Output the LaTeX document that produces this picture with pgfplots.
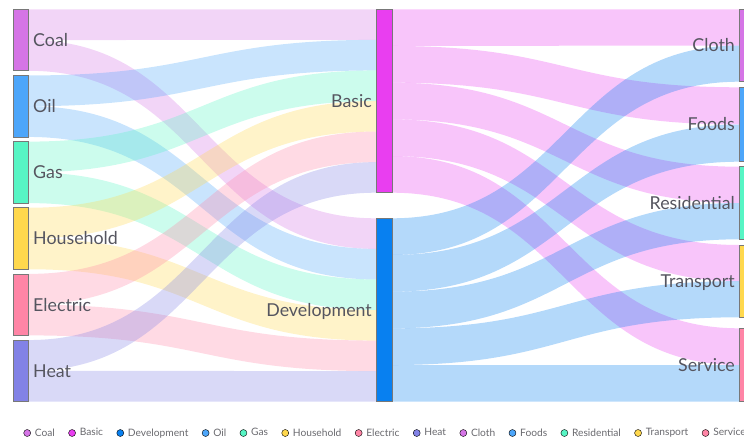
\documentclass[border=0pt]{standalone}
\usepackage{pgfplots}
\pgfplotsset{compat=1.18}
\usepackage{pgfplotstable}
\usepackage{fontspec}
\setmainfont{Lato}
\definecolor{coalc}{RGB}{213,117,230}
\definecolor{basicc}{RGB}{233,62,240}
\definecolor{devc}{RGB}{8,128,240}
\definecolor{oilc}{RGB}{77,166,250}
\definecolor{gasc}{RGB}{87,245,196}
\definecolor{housec}{RGB}{255,216,77}
\definecolor{elecc}{RGB}{255,133,166}
\definecolor{heatc}{RGB}{130,130,230}
\definecolor{labc}{RGB}{85,85,95}
\definecolor{legc}{RGB}{105,105,110}
\definecolor{nodeb}{RGB}{120,120,120}
\newcommand\biglab{\fontsize{17.8}{21}\selectfont}

% links: source x, source top, source bottom, target x, target top, target bottom, colour
\pgfplotstableread{
sx sa sb tx ta tb col
28.7 9.3 40.05 376 9.3 39.87 coalc
28.7 40.05 70.8 376 218.3 248.87 coalc
28.7 75.45 106.2 376 39.87 70.43 oilc
28.7 106.2 136.95 376 248.87 279.43 oilc
28.7 141.6 172.35 376 70.43 101.0 gasc
28.7 172.35 203.1 376 279.43 310.0 gasc
28.7 207.75 238.5 376 101.0 131.57 housec
28.7 238.5 269.25 376 310.0 340.57 housec
28.7 273.9 304.65 376 131.57 162.13 elecc
28.7 304.65 335.4 376 340.57 371.13 elecc
28.7 340.05 370.8 376 162.13 192.7 heatc
28.7 370.8 401.55 376 371.13 401.7 heatc
392 9.3 45.98 739.3 9.3 45.5 basicc
392 45.98 82.66 739.3 87.3 124.5 basicc
392 82.66 119.34 739.3 166.7 203.0 basicc
392 119.34 156.02 739.3 245.0 281.15 basicc
392 156.02 192.7 739.3 328.3 365.0 basicc
392 218.3 254.98 739.3 45.5 81.7 devc
392 254.98 291.66 739.3 124.5 161.7 devc
392 291.66 328.34 739.3 203.0 239.3 devc
392 328.34 365.02 739.3 281.15 317.3 devc
392 365.02 401.7 739.3 365.0 401.7 devc
}\linktab

% nodes: left, top, right, bottom, colour
\pgfplotstableread{
x0 y0 x1 y1 col
13.3 9.3 28.7 70.8 coalc
13.3 75.45 28.7 136.95 oilc
13.3 141.6 28.7 203.1 gasc
13.3 207.75 28.7 269.25 housec
13.3 273.9 28.7 335.4 elecc
13.3 340.05 28.7 401.55 heatc
376 9.3 392 192.7 basicc
376 218.3 392 401.7 devc
739.3 9.3 755 81.7 coalc
739.3 87.3 755 161.7 oilc
739.3 166.7 755 239.3 gasc
739.3 245.0 755 317.3 housec
739.3 328.3 755 401.7 elecc
}\nodetab

\begin{document}
\begin{tikzpicture}
\begin{axis}[
  width=744pt, height=439pt, scale only axis,
  xmin=0, xmax=744, ymin=0, ymax=439, y dir=reverse,
  hide axis, clip=false,
  legend columns=-1,
  legend image code/.code={\fill[#1] (0pt,0pt) circle (3.5pt);},
  legend style={at={(axis cs:23.5,433)}, anchor=west, draw=none, fill=none,
    inner sep=0pt, outer sep=0pt,
    font=\fontsize{10.2}{12}\selectfont, text=legc,
    /tikz/every odd column/.append style={column sep=2pt},
    /tikz/every even column/.append style={column sep=11.5pt}},
]
\pgfplotstablegetrowsof{\linktab}
\pgfmathtruncatemacro\nlast{\pgfplotsretval-1}
\pgfplotsforeachungrouped \i in {0,...,\nlast}{%
  \pgfplotstablegetelem{\i}{sx}\of\linktab \let\Lsx\pgfplotsretval
  \pgfplotstablegetelem{\i}{sa}\of\linktab \let\Lsa\pgfplotsretval
  \pgfplotstablegetelem{\i}{sb}\of\linktab \let\Lsb\pgfplotsretval
  \pgfplotstablegetelem{\i}{tx}\of\linktab \let\Ltx\pgfplotsretval
  \pgfplotstablegetelem{\i}{ta}\of\linktab \let\Lta\pgfplotsretval
  \pgfplotstablegetelem{\i}{tb}\of\linktab \let\Ltb\pgfplotsretval
  \pgfplotstablegetelem{\i}{col}\of\linktab \let\Lcol\pgfplotsretval
  \pgfmathsetmacro\Lm{(\Lsx+\Ltx)/2}%
  \edef\temp{\noexpand\fill[fill=\Lcol, fill opacity=0.3] (axis cs:\Lsx,\Lsa) .. controls (axis cs:\Lm,\Lsa) and (axis cs:\Lm,\Lta) .. (axis cs:\Ltx,\Lta) -- (axis cs:\Ltx,\Ltb) .. controls (axis cs:\Lm,\Ltb) and (axis cs:\Lm,\Lsb) .. (axis cs:\Lsx,\Lsb) -- cycle;}%
  \temp
}
\pgfplotstablegetrowsof{\nodetab}
\pgfmathtruncatemacro\mlast{\pgfplotsretval-1}
\pgfplotsforeachungrouped \i in {0,...,\mlast}{%
  \pgfplotstablegetelem{\i}{x0}\of\nodetab \let\Nxa\pgfplotsretval
  \pgfplotstablegetelem{\i}{y0}\of\nodetab \let\Nya\pgfplotsretval
  \pgfplotstablegetelem{\i}{x1}\of\nodetab \let\Nxb\pgfplotsretval
  \pgfplotstablegetelem{\i}{y1}\of\nodetab \let\Nyb\pgfplotsretval
  \pgfplotstablegetelem{\i}{col}\of\nodetab \let\Ncol\pgfplotsretval
  \edef\temp{\noexpand\filldraw[fill=\Ncol, draw=nodeb, line width=0.7pt] (axis cs:\Nxa,\Nya) rectangle (axis cs:\Nxb,\Nyb);}%
  \temp
}
\tikzset{lab/.style={text=labc, font=\biglab, inner sep=0pt, yshift=-6.4pt}}
\node[lab, anchor=base west] at (axis cs:33,40.05) {Coal};
\node[lab, anchor=base west] at (axis cs:33,106.2) {Oil};
\node[lab, anchor=base west] at (axis cs:33,172.35) {Gas};
\node[lab, anchor=base west] at (axis cs:33,238.5) {Household};
\node[lab, anchor=base west] at (axis cs:33,304.65) {Electric};
\node[lab, anchor=base west] at (axis cs:33,370.8) {Heat};
\node[lab, anchor=base east] at (axis cs:372,101) {Basic};
\node[lab, anchor=base east] at (axis cs:372,310) {Development};
\node[lab, anchor=base east] at (axis cs:735,45.5) {Cloth};
\node[lab, anchor=base east] at (axis cs:735,124.5) {Foods};
\node[lab, anchor=base east] at (axis cs:735,203) {Residential};
\node[lab, anchor=base east] at (axis cs:735,281.15) {Transport};
\node[lab, anchor=base east] at (axis cs:735,365) {Service};
\addlegendimage{fill=coalc}\addlegendentry{Coal}
\addlegendimage{fill=basicc}\addlegendentry{Basic}
\addlegendimage{fill=devc}\addlegendentry{Development}
\addlegendimage{fill=oilc}\addlegendentry{Oil}
\addlegendimage{fill=gasc}\addlegendentry{Gas}
\addlegendimage{fill=housec}\addlegendentry{Household}
\addlegendimage{fill=elecc}\addlegendentry{Electric}
\addlegendimage{fill=heatc}\addlegendentry{Heat}
\addlegendimage{fill=coalc}\addlegendentry{Cloth}
\addlegendimage{fill=oilc}\addlegendentry{Foods}
\addlegendimage{fill=gasc}\addlegendentry{Residential}
\addlegendimage{fill=housec}\addlegendentry{Transport}
\addlegendimage{fill=elecc}\addlegendentry{Service}
\end{axis}
\pgfresetboundingbox
\path[use as bounding box] (current axis.south west) rectangle (current axis.north east);
\end{tikzpicture}
\end{document}
